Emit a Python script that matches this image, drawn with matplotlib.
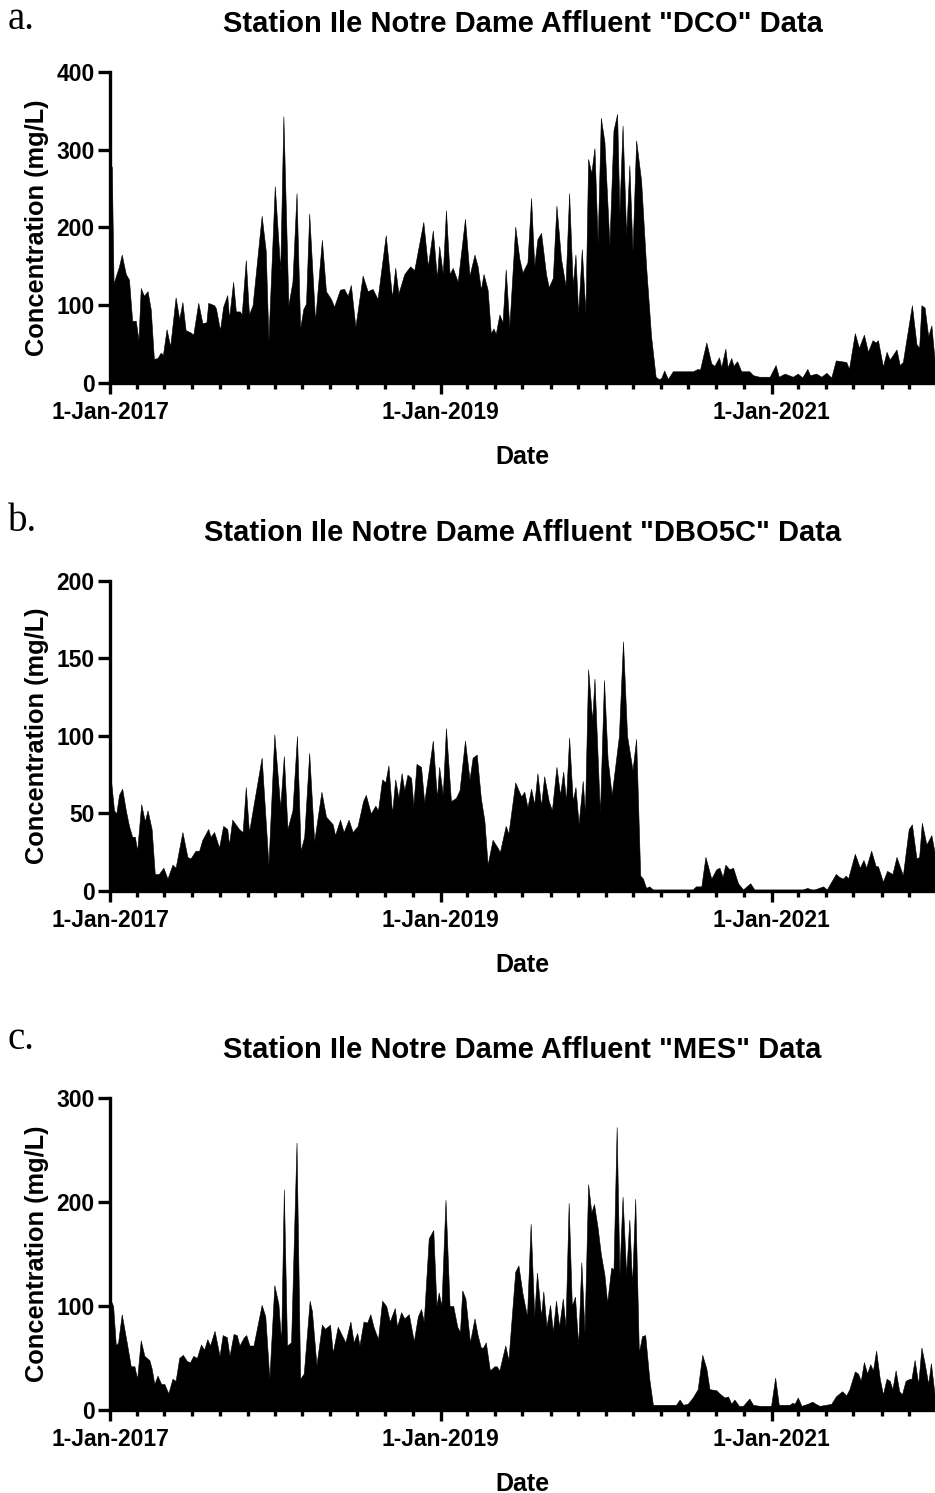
import pandas as pd
import matplotlib
matplotlib.use("Agg")
from matplotlib import pyplot as plt
import matplotlib.dates as mdates

plt.rcParams['font.family'] = ['Liberation Sans', 'DejaVu Sans']
plt.rcParams['font.weight'] = 'bold'

# days since 1-Jan-2017, concentration in mg/L
dco_days = [0, 4, 8, 20, 26, 35, 42, 49, 57, 63, 68, 75, 83, 90, 97, 105, 112, 117, 125, 133,
            145, 153, 160, 167, 178, 184, 195, 204, 213, 217, 230, 234, 243, 250, 259, 263, 272, 278, 287, 291,
            300, 307, 315, 335, 344, 350, 364, 376, 383, 394, 403, 412, 420, 427, 433, 440, 453, 468, 477, 488,
            495, 508, 517, 525, 532, 542, 558, 569, 580, 591, 609, 623, 630, 637, 650, 663, 672, 692, 702, 713,
            722, 727, 735, 742, 750, 757, 768, 784, 794, 805, 812, 819, 825, 834, 841, 847, 852, 860, 867, 874,
            882, 895, 904, 911, 922, 930, 937, 944, 952, 963, 969, 978, 986, 996, 1006, 1014, 1022, 1028, 1034, 1042,
            1050, 1056, 1063, 1070, 1077, 1084, 1092, 1103, 1112, 1120, 1125, 1132, 1140, 1147, 1154, 1162, 1173, 1184, 1195, 1205,
            1212, 1217, 1224, 1232, 1243, 1287, 1298, 1303, 1317, 1328, 1335, 1345, 1350, 1359, 1364, 1372, 1377, 1385, 1394, 1412,
            1420, 1434, 1457, 1470, 1477, 1490, 1508, 1519, 1529, 1540, 1546, 1560, 1571, 1582, 1593, 1603, 1626, 1632, 1645, 1654,
            1665, 1674, 1684, 1691, 1696, 1707, 1715, 1722, 1737, 1744, 1751, 1771, 1781, 1787, 1792, 1799, 1807, 1814, 1821]
dco_vals = [282, 278, 128, 150, 165, 140, 133, 80, 80, 55, 122, 112, 118, 95, 31, 32, 39, 36, 69, 47,
            110, 82, 104, 68, 65, 62, 103, 77, 78, 103, 100, 96, 68, 98, 113, 83, 130, 92, 92, 88,
            158, 88, 100, 215, 170, 55, 253, 145, 343, 100, 130, 244, 70, 95, 102, 218, 80, 184, 118, 108,
            98, 120, 121, 112, 126, 72, 138, 118, 121, 108, 190, 110, 148, 115, 140, 150, 145, 207, 150, 196,
            135, 176, 140, 222, 140, 148, 130, 211, 138, 165, 150, 120, 140, 120, 64, 70, 63, 88, 78, 146,
            72, 201, 160, 142, 155, 238, 150, 185, 193, 140, 123, 135, 228, 160, 125, 244, 125, 165, 89, 172,
            90, 288, 270, 302, 180, 341, 310, 178, 325, 346, 219, 331, 190, 280, 170, 312, 260, 150, 60, 8,
            5, 6, 16, 5, 15, 15, 18, 17, 52, 25, 22, 33, 20, 44, 20, 32, 22, 28, 15, 15,
            10, 8, 8, 23, 8, 12, 8, 12, 7, 18, 10, 12, 8, 13, 7, 29, 27, 18, 64, 45,
            62, 40, 55, 52, 55, 21, 40, 30, 43, 23, 27, 100, 50, 45, 100, 97, 60, 74, 30]

dbo_days = [0, 9, 14, 20, 27, 35, 42, 49, 55, 60, 69, 77, 83, 92, 99, 108, 118, 127, 138, 145,
            160, 171, 178, 189, 197, 204, 217, 222, 230, 241, 250, 259, 263, 270, 285, 293, 300, 307, 335, 350,
            363, 376, 384, 392, 403, 413, 421, 429, 440, 451, 467, 477, 492, 497, 508, 516, 527, 536, 547, 559,
            565, 576, 586, 592, 601, 608, 615, 623, 630, 637, 644, 650, 657, 665, 670, 677, 687, 694, 713, 722,
            727, 735, 742, 753, 764, 772, 784, 794, 801, 810, 819, 827, 834, 845, 856, 861, 874, 880, 895, 908,
            915, 922, 930, 937, 944, 952, 959, 969, 976, 986, 994, 1001, 1007, 1014, 1022, 1028, 1035, 1044, 1049, 1056,
            1065, 1070, 1082, 1091, 1099, 1108, 1124, 1133, 1142, 1154, 1162, 1171, 1177, 1184, 1191, 1199, 1287, 1294, 1306, 1315,
            1328, 1339, 1346, 1353, 1359, 1368, 1376, 1387, 1398, 1414, 1423, 1530, 1540, 1549, 1556, 1575, 1583, 1603, 1611, 1619,
            1625, 1630, 1645, 1656, 1664, 1670, 1681, 1691, 1696, 1707, 1716, 1728, 1737, 1751, 1764, 1771, 1781, 1787, 1793, 1803,
            1814, 1821]
dbo_vals = [78, 52, 50, 62, 66, 52, 42, 35, 35, 26, 56, 45, 52, 40, 11, 11, 15, 8, 17, 15,
            38, 22, 21, 26, 26, 33, 40, 35, 38, 28, 42, 40, 30, 46, 40, 38, 67, 38, 86, 17,
            101, 54, 87, 40, 52, 100, 26, 35, 89, 32, 64, 48, 43, 36, 46, 38, 46, 38, 42, 58,
            62, 50, 55, 52, 72, 70, 81, 50, 72, 60, 76, 65, 75, 73, 55, 82, 80, 57, 97, 60,
            80, 62, 105, 58, 60, 65, 97, 72, 86, 88, 60, 45, 17, 33, 28, 25, 42, 37, 70, 61,
            64, 54, 66, 56, 76, 55, 74, 58, 52, 80, 62, 77, 58, 99, 58, 67, 43, 71, 50, 143,
            110, 137, 50, 136, 85, 62, 100, 161, 100, 78, 98, 10, 8, 2, 3, 1, 1, 3, 3, 22,
            8, 14, 15, 9, 17, 14, 15, 5, 1, 5, 1, 1, 2, 1, 1, 3, 1, 11, 9, 8,
            10, 8, 24, 15, 20, 15, 26, 16, 16, 6, 13, 11, 22, 10, 40, 43, 21, 22, 44, 30,
            36, 25]

mes_days = [0, 7, 13, 18, 26, 37, 46, 54, 60, 68, 76, 87, 92, 98, 105, 113, 120, 129, 138, 145,
            153, 161, 170, 177, 184, 192, 201, 208, 215, 221, 231, 242, 249, 258, 264, 273, 280, 286, 296, 301,
            308, 317, 335, 343, 352, 363, 372, 378, 384, 391, 400, 412, 420, 428, 441, 446, 456, 468, 475, 486,
            492, 503, 512, 520, 531, 538, 546, 551, 560, 568, 575, 582, 592, 601, 610, 618, 629, 634, 643, 650,
            660, 671, 680, 687, 693, 704, 714, 721, 726, 732, 741, 750, 758, 767, 773, 778, 785, 795, 805, 812,
            819, 824, 830, 839, 849, 854, 860, 873, 880, 895, 902, 911, 921, 929, 937, 943, 952, 957, 964, 972,
            978, 985, 992, 1000, 1006, 1013, 1020, 1027, 1034, 1041, 1048, 1056, 1063, 1069, 1077, 1084, 1092, 1098, 1107, 1112,
            1119, 1125, 1132, 1140, 1147, 1153, 1160, 1168, 1175, 1182, 1191, 1199, 1250, 1258, 1266, 1276, 1287, 1298, 1308, 1317,
            1324, 1339, 1346, 1357, 1365, 1372, 1379, 1389, 1398, 1412, 1420, 1434, 1460, 1469, 1477, 1501, 1507, 1512, 1519, 1527,
            1541, 1551, 1558, 1567, 1582, 1593, 1603, 1611, 1617, 1626, 1633, 1645, 1652, 1658, 1665, 1672, 1679, 1685, 1692, 1700,
            1707, 1715, 1722, 1728, 1735, 1743, 1749, 1757, 1766, 1770, 1777, 1785, 1792, 1799, 1807, 1813, 1821]
mes_vals = [107, 100, 62, 65, 92, 65, 42, 42, 30, 67, 52, 48, 40, 25, 33, 25, 25, 16, 30, 28,
            50, 53, 47, 46, 52, 50, 63, 58, 68, 62, 76, 52, 72, 70, 52, 73, 72, 62, 70, 72,
            62, 62, 101, 90, 30, 120, 102, 65, 212, 62, 65, 257, 30, 35, 105, 95, 43, 82, 78, 82,
            55, 80, 72, 65, 85, 65, 74, 62, 85, 84, 92, 80, 68, 105, 100, 85, 98, 80, 94, 88,
            92, 66, 90, 97, 85, 165, 173, 100, 113, 100, 202, 100, 100, 80, 75, 115, 107, 65, 88, 72,
            60, 60, 65, 38, 42, 42, 38, 62, 48, 133, 139, 112, 90, 179, 90, 132, 90, 114, 80, 101,
            75, 105, 80, 107, 80, 199, 100, 109, 62, 142, 75, 217, 190, 198, 175, 150, 130, 103, 137, 135,
            272, 130, 205, 130, 183, 120, 203, 55, 71, 72, 30, 5, 5, 10, 5, 6, 12, 20, 53, 40,
            20, 19, 16, 12, 13, 6, 10, 4, 4, 11, 5, 4, 4, 31, 5, 5, 7, 6, 12, 4,
            6, 8, 6, 4, 5, 6, 13, 16, 18, 14, 20, 37, 35, 28, 46, 35, 44, 38, 57, 30,
            15, 30, 28, 20, 38, 18, 15, 28, 30, 30, 48, 25, 60, 45, 25, 45, 15]

tick_dates = ["2017-01-01", "2019-01-01", "2021-01-01"]
tick_labels = ["1-Jan-2017", "1-Jan-2019", "1-Jan-2021"]

panels = [
    ("a.", 'Station Ile Notre Dame Affluent "DCO" Data', dco_days, dco_vals, 400, 100),
    ("b.", 'Station Ile Notre Dame Affluent "DBO5C" Data', dbo_days, dbo_vals, 200, 50),
    ("c.", 'Station Ile Notre Dame Affluent "MES" Data', mes_days, mes_vals, 300, 100),
]

start = pd.Timestamp("2017-01-01")
x_end = start + pd.Timedelta(days=1822)

fig = plt.figure(figsize=(9.35, 14.93), dpi=100)

# axes boxes in figure fractions: (bottom, top)
boxes = [(0.7435, 0.9518), (0.4032, 0.6109), (0.0556, 0.2646)]
letter_y = [0.987, 0.651, 0.304]

for (letter, title, days, vals, ymax, ystep), (b, t), ly in zip(panels, boxes, letter_y):
    ax = fig.add_axes([0.1176, b, 1.0 - 0.1176, t - b])
    dates = start + pd.to_timedelta(days, unit="D")
    ax.fill_between(dates, vals, 0, color="black", linewidth=0.4, edgecolor="black")

    ax.set_xlim(start, x_end)
    ax.set_ylim(0, ymax)
    ax.set_yticks(range(0, ymax + 1, ystep))

    ax.set_xticks(pd.to_datetime(tick_dates))
    ax.set_xticklabels(tick_labels)
    ax.xaxis.set_minor_locator(mdates.MonthLocator(bymonth=[1, 3, 5, 7, 9, 11]))

    for s in ["top", "right"]:
        ax.spines[s].set_visible(False)
    for s in ["left", "bottom"]:
        ax.spines[s].set_linewidth(2.4)

    ax.tick_params(axis="y", which="major", length=9, width=2.4, labelsize=16.5, pad=2)
    ax.tick_params(axis="x", which="major", length=8, width=2.4, labelsize=16.5, pad=5)
    ax.tick_params(axis="x", which="minor", length=4.5, width=2.4)

    ax.set_ylabel("Concentration (mg/L)", fontsize=18.3, fontweight="bold", labelpad=5)
    ax.set_xlabel("Date", fontsize=18, fontweight="bold", labelpad=15)
    ax.set_title(title, fontsize=21, fontweight="bold", pad=29)

    fig.text(0.008, ly, letter, fontsize=28, fontweight="normal",
             family=["Liberation Serif", "DejaVu Serif"], ha="left", va="center")

fig.savefig("out.png", dpi=100)
